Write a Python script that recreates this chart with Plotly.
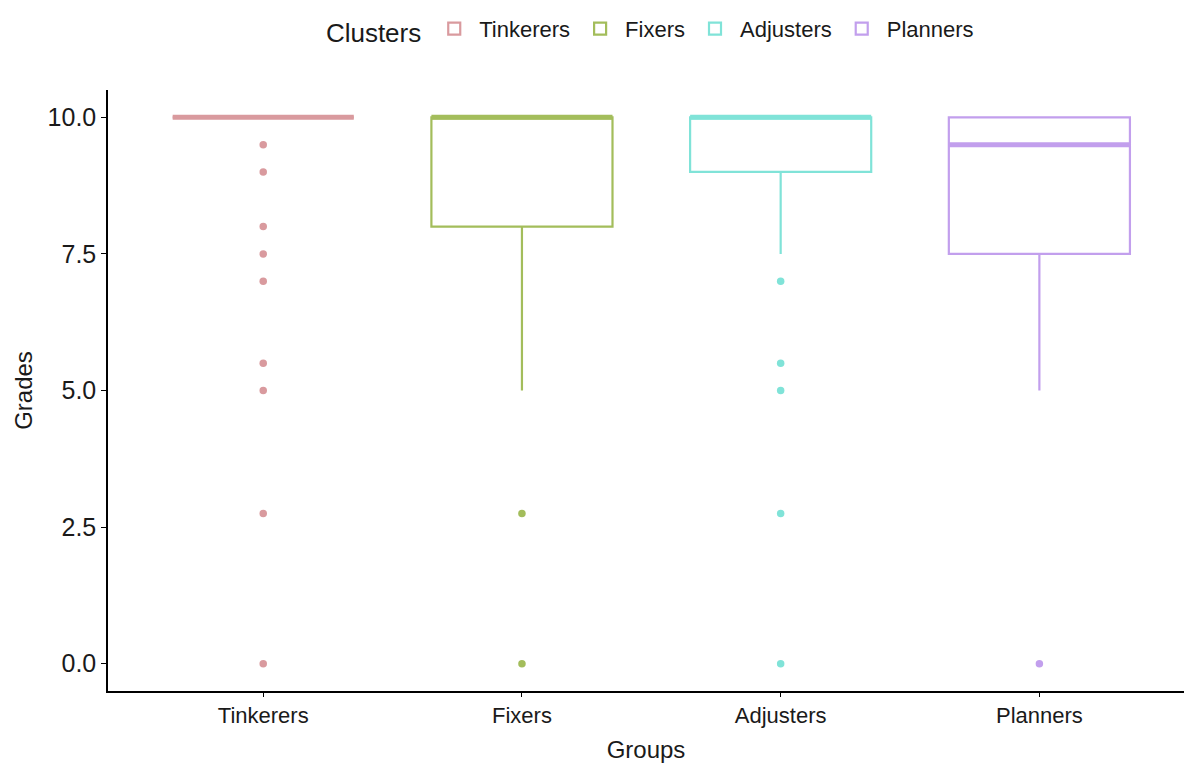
import plotly.graph_objects as go

# Box statistics per cluster
groups = ["Tinkerers", "Fixers", "Adjusters", "Planners"]
colors = ["#D99A9E", "#A3BD5B", "#80E3D8", "#C29FED"]
q1 = [10.0, 8.0, 9.0, 7.5]
median = [10.0, 10.0, 10.0, 9.5]
q3 = [10.0, 10.0, 10.0, 10.0]
lower_fence = [10.0, 5.0, 7.5, 5.0]
upper_fence = [10.0, 10.0, 10.0, 10.0]

# Outlying grades per cluster
outliers = [
    [9.5, 9.0, 8.0, 7.5, 7.0, 5.5, 5.0, 2.75, 0.0],
    [2.75, 0.0],
    [7.0, 5.5, 5.0, 2.75, 0.0],
    [0.0],
]

box_width = 0.7
font_family = "Liberation Sans, Arial, sans-serif"
text_color = "#1a1a1a"

fig = go.Figure()

for i, g in enumerate(groups):
    fig.add_trace(go.Box(
        x=[i], q1=[q1[i]], median=[median[i]], q3=[q3[i]],
        lowerfence=[lower_fence[i]], upperfence=[upper_fence[i]],
        name=g, width=box_width, whiskerwidth=0,
        line=dict(color=colors[i], width=2.2),
        fillcolor="rgba(255,255,255,0)",
        boxpoints=False, hoverinfo="skip",
    ))
    # thicker median bar, as in ggplot boxplots
    fig.add_trace(go.Scatter(
        x=[i - box_width / 2, i + box_width / 2],
        y=[median[i], median[i]],
        mode="lines", line=dict(color=colors[i], width=5),
        showlegend=False, hoverinfo="skip",
    ))
    fig.add_trace(go.Scatter(
        x=[i] * len(outliers[i]), y=outliers[i],
        mode="markers", marker=dict(color=colors[i], size=7.5),
        showlegend=False, hoverinfo="skip",
    ))

fig.update_layout(
    width=1184, height=763,
    margin=dict(l=108, r=0, t=90, b=72),
    plot_bgcolor="white", paper_bgcolor="white",
    font=dict(family=font_family, color=text_color),
    legend=dict(
        orientation="h", x=0.505, xanchor="center",
        yref="container", y=0.961, yanchor="middle",
        title=dict(text="Clusters", font=dict(size=26, color=text_color)),
        font=dict(size=22, color=text_color),
        itemwidth=40,
    ),
    xaxis=dict(
        range=[-0.6, 3.559], tickvals=list(range(len(groups))), ticktext=groups,
        showgrid=False, zeroline=False,
        showline=True, linecolor="black", linewidth=1.5,
        ticks="outside", ticklen=4, tickcolor="black", tickwidth=1.2,
        tickfont=dict(size=22, color=text_color),
        title=dict(text="Groups", font=dict(size=24, color=text_color), standoff=15),
    ),
    yaxis=dict(
        range=[-0.5, 10.5], tickvals=[0, 2.5, 5, 7.5, 10],
        ticktext=["0.0", "2.5", "5.0", "7.5", "10.0"],
        showgrid=False, zeroline=False,
        showline=True, linecolor="black", linewidth=1.5,
        ticks="outside", ticklen=5, tickcolor="black", tickwidth=1.2,
        tickfont=dict(size=25, color=text_color),
        title=dict(text="Grades", font=dict(size=24, color=text_color), standoff=8),
    ),
)

fig.write_html("out.html")
